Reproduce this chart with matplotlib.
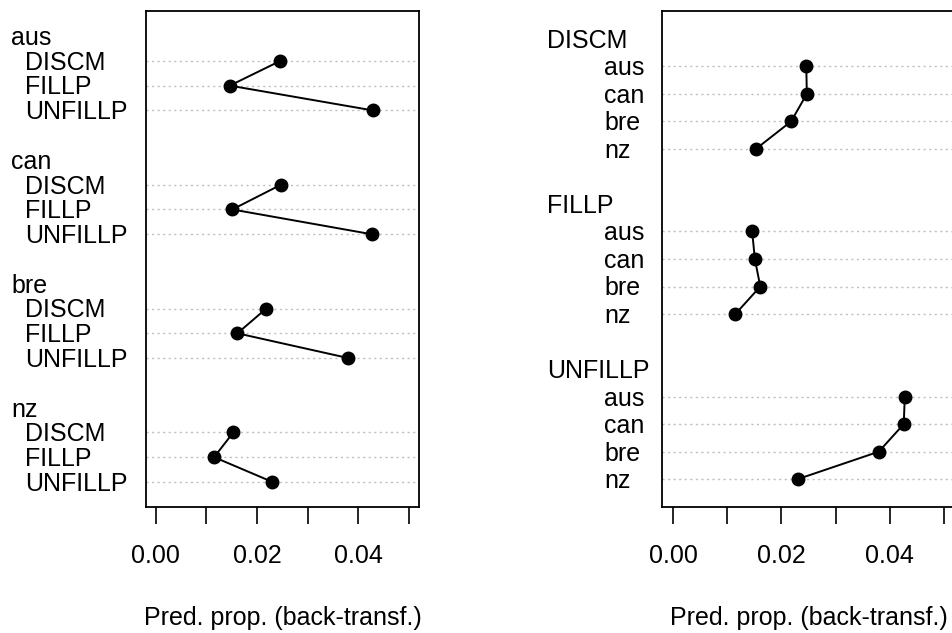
import matplotlib
matplotlib.use('Agg')
from matplotlib import pyplot as plt, transforms

plt.rcParams['font.family'] = ['Liberation Sans', 'DejaVu Sans']

COUNTRIES = ['aus', 'can', 'bre', 'nz']
TYPES = ['DISCM', 'FILLP', 'UNFILLP']

# predicted proportions, by type then country
DISCM = [0.0246, 0.0247, 0.0218, 0.0153]
FILLP = [0.0146, 0.0151, 0.0161, 0.0115]
UNFILLP = [0.0428, 0.0426, 0.0380, 0.0230]

XTICKS = [0.00, 0.01, 0.02, 0.03, 0.04, 0.05]
XTICKLABELS = ['0.00', '', '0.02', '', '0.04', '']
XLABEL = 'Pred. prop. (back-transf.)'

FS = 18
W, H = 953, 633


def dotchart(fig, ax, groups, glabels, labels, gx, lx):
    # R dotchart layout: first group on top, 2 extra lines between groups
    n = sum(len(g) for g in groups)
    ymax = n + 2 * (len(groups) - 1)
    ax.set_ylim(0, ymax + 2)
    ax.set_xlim(-0.002, 0.052)
    trans = transforms.blended_transform_factory(fig.transFigure, ax.transData)
    trans = transforms.offset_copy(trans, fig=fig, x=0, y=-6.4, units='points')
    top = ymax
    for vals, glab in zip(groups, glabels):
        ys = [top - i for i in range(len(vals))]
        for y in ys:
            ax.axhline(y, color='#bebebe', lw=1, ls=(0, (1.5, 2.5)), zorder=1)
        ax.plot(vals, ys, color='black', lw=1.4, marker='o', ms=9, zorder=3)
        ax.text(gx / W, top + 1, glab, transform=trans, ha='left', va='baseline', fontsize=FS)
        for y, lab in zip(ys, labels):
            ax.text(lx / W, y, lab, transform=trans, ha='left', va='baseline', fontsize=FS)
        top -= len(vals) + 2

    ax.set_yticks([])
    ax.set_xticks(XTICKS)
    ax.set_xticklabels(XTICKLABELS)
    ax.tick_params(axis='x', length=12, width=1.2, pad=15, labelsize=FS)
    for s in ax.spines.values():
        s.set_linewidth(1.3)
    cx = (ax.get_position().x0 + ax.get_position().x1) / 2
    fig.text(cx, 1 - 625 / H, XLABEL, ha='center', va='baseline', fontsize=FS)


def main():
    fig = plt.figure(figsize=(W / 100, H / 100), dpi=100)

    ax1 = fig.add_axes([145.7 / W, 1 - 506.7 / H, 273.6 / W, 495.4 / H])
    ax2 = fig.add_axes([662.3 / W, 1 - 506.7 / H, 292.3 / W, 495.4 / H])

    # left: grouped by country
    by_country = [[DISCM[i], FILLP[i], UNFILLP[i]] for i in range(len(COUNTRIES))]
    dotchart(fig, ax1, by_country, COUNTRIES, TYPES, 11.5, 25)

    # right: grouped by type
    dotchart(fig, ax2, [DISCM, FILLP, UNFILLP], TYPES, COUNTRIES, 547, 604.5)

    fig.savefig('out.png', dpi=100)


if __name__ == '__main__':
    main()
